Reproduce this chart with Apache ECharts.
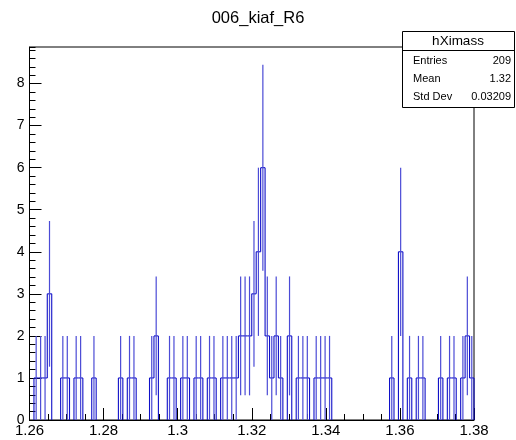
<!DOCTYPE html>
<html><head><meta charset="utf-8">
<script src="https://cdn.jsdelivr.net/npm/echarts@6/dist/echarts.min.js"></script>
<style>html,body{margin:0;padding:0;background:#fff}#c{width:516px;height:440px}</style>
</head><body><div id="c"></div>
<script>
const chartTitle = '006_kiaf_R6';
const histName = 'hXimass';
const statLabels = ['Entries', 'Mean', 'Std Dev'];
const statValues = ['209', '1.32', '0.03209'];
const xMin = 1.26, xMax = 1.38, binWidth = 0.0012;
const yMax = 8.87;
const xTickLabels = ['1.26', '1.28', '1.3', '1.32', '1.34', '1.36', '1.38'];
const yTickLabels = ['0', '1', '2', '3', '4', '5', '6', '7', '8'];
const counts = [
  0, 1, 1, 1, 3, 0, 0, 1, 1, 0,
  1, 1, 0, 0, 1, 0, 0, 0, 0, 0,
  1, 0, 1, 1, 0, 0, 0, 1, 2, 0,
  0, 1, 1, 0, 1, 1, 0, 1, 1, 0,
  1, 1, 0, 1, 1, 1, 1, 2, 2, 2,
  3, 4, 6, 2, 1, 2, 1, 0, 2, 0,
  1, 1, 1, 0, 1, 1, 1, 1, 0, 0,
  0, 0, 0, 0, 0, 0, 0, 0, 0, 0,
  0, 1, 0, 4, 0, 1, 0, 1, 1, 0,
  0, 0, 1, 0, 1, 1, 0, 1, 2, 1
];

const FONT = 'Liberation Sans';
const LINE_BLUE = '#1010c8';
const ERR_BLUE = '#4b4bd6';
// one item per bin: [low edge, high edge, count, previous count, next count]
const binData = counts.map((c, i) => [xMin + i * binWidth, xMin + (i + 1) * binWidth, c,
  i > 0 ? counts[i - 1] : 0, i < counts.length - 1 ? counts[i + 1] : 0]);
const errData = counts.map((c, i) => [xMin + (i + 0.5) * binWidth, c]).filter(d => d[1] > 0);

const chart = echarts.init(document.getElementById('c'), null, {renderer: 'canvas'});
const gfx = [
  {type: 'rect', shape: {x: 402.5, y: 31.5, width: 112, height: 76}, style: {fill: '#fff', stroke: '#000', lineWidth: 1}, z: 100},
  {type: 'line', shape: {x1: 402.5, y1: 50.5, x2: 514.5, y2: 50.5}, style: {stroke: '#000', lineWidth: 1}, z: 101},
  {type: 'text', x: 458, y: 41, style: {text: histName, font: '13.5px "' + FONT + '"', textAlign: 'center', textVerticalAlign: 'middle', fill: '#000'}, z: 101}
];
statLabels.forEach((l, k) => {
  const y = 61 + k * 18;
  gfx.push({type: 'text', x: 413, y: y, style: {text: l, font: '11px "' + FONT + '"', textAlign: 'left', textVerticalAlign: 'middle', fill: '#000'}, z: 101});
  gfx.push({type: 'text', x: 511, y: y, style: {text: statValues[k], font: '11px "' + FONT + '"', textAlign: 'right', textVerticalAlign: 'middle', fill: '#000'}, z: 101});
});

chart.setOption({
  animation: false,
  backgroundColor: '#fff',
  title: {text: chartTitle, left: 'center', top: 5, textStyle: {fontFamily: FONT, fontSize: 16.5, fontWeight: 'normal', color: '#000'}},
  grid: {left: 29.5, right: 42, top: 47, bottom: 20, show: true, borderColor: '#000', borderWidth: 1, backgroundColor: 'transparent'},
  xAxis: {
    type: 'value', min: xMin, max: xMax, interval: 0.02,
    axisLine: {show: true, lineStyle: {color: '#000', width: 1}},
    axisTick: {show: true, inside: true, length: 12, lineStyle: {color: '#000'}},
    minorTick: {show: true, splitNumber: 4, length: 6, lineStyle: {color: '#000'}},
    splitLine: {show: false}, minorSplitLine: {show: false},
    axisLabel: {color: '#000', fontFamily: FONT, fontSize: 15, margin: 3,
      formatter: v => xTickLabels[Math.round((v - xMin) / 0.02)] || ''}
  },
  yAxis: [{
    type: 'value', min: 0, max: yMax, interval: 1,
    axisLine: {show: true, lineStyle: {color: '#000', width: 1}},
    axisTick: {show: true, inside: true, length: 12, lineStyle: {color: '#000'}},
    splitLine: {show: false},
    axisLabel: {color: '#000', fontFamily: FONT, fontSize: 14, margin: 5, showMaxLabel: false,
      formatter: v => (Math.abs(v - Math.round(v)) < 1e-6 ? (yTickLabels[Math.round(v)] || '') : '')}
  }, {
    type: 'value', min: 0, max: yMax, interval: 0.2, position: 'left',
    axisLine: {show: false},
    axisTick: {show: true, inside: true, length: 6, lineStyle: {color: '#000'}},
    splitLine: {show: false}, axisLabel: {show: false}
  }],
  series: [{
    type: 'custom', data: binData, clip: true, z: 3,
    renderItem: (params, api) => {
      const a = api.value(0), b = api.value(1), c = api.value(2), prev = api.value(3), next = api.value(4);
      const st = {stroke: LINE_BLUE, lineWidth: 1.1};
      const kids = [];
      const pa = api.coord([a, c]), pb = api.coord([b, c]);
      if (c > 0) kids.push({type: 'line', shape: {x1: pa[0], y1: pa[1], x2: pb[0], y2: pb[1]}, style: st});
      if (c !== prev) {
        const q = api.coord([a, prev]);
        kids.push({type: 'line', shape: {x1: pa[0], y1: q[1], x2: pa[0], y2: pa[1]}, style: st});
      }
      if (params.dataIndex === counts.length - 1 && c > 0) {
        const q = api.coord([b, 0]);
        kids.push({type: 'line', shape: {x1: pb[0], y1: pb[1], x2: pb[0], y2: q[1]}, style: st});
      }
      return {type: 'group', children: kids};
    }
  }, {
    type: 'custom', data: errData, clip: true, z: 4,
    renderItem: (params, api) => {
      const x = api.value(0), c = api.value(1), e = Math.sqrt(c);
      const p1 = api.coord([x, c - e]), p2 = api.coord([x, c + e]);
      return {type: 'line', shape: {x1: p1[0], y1: p1[1], x2: p2[0], y2: p2[1]}, style: {stroke: ERR_BLUE, lineWidth: 1.2}};
    }
  }],
  graphic: gfx
});
</script></body></html>
